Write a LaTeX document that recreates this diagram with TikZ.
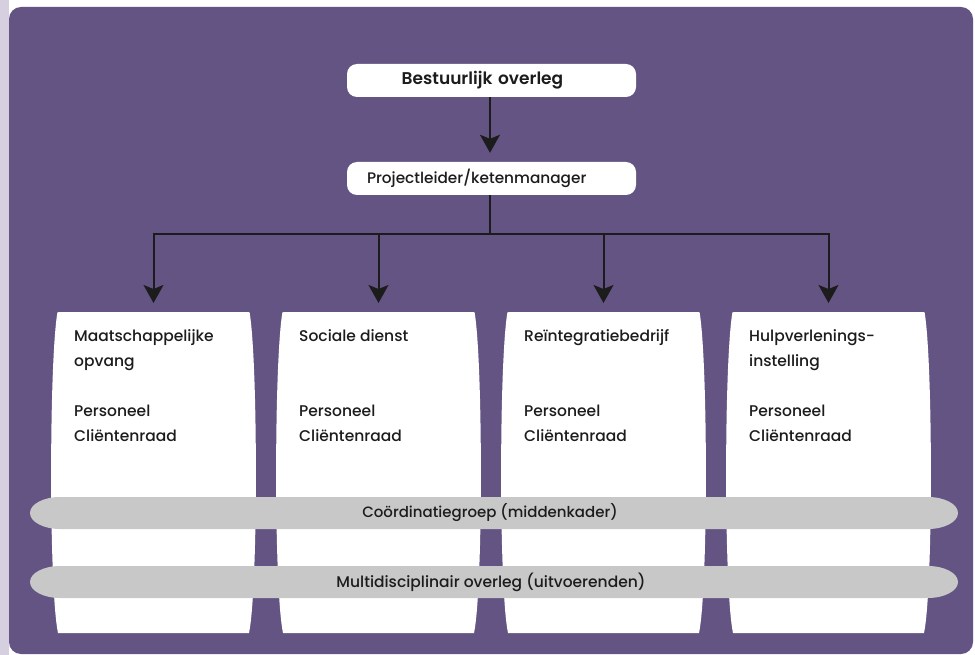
\documentclass[tikz,border=0pt]{standalone}
\usepackage{fontspec}
\setmainfont{Poppins}[UprightFont=* Medium, BoldFont=* SemiBold]
\usetikzlibrary{arrows.meta}
\definecolor{bgpurple}{RGB}{100,84,131}
\definecolor{lav}{RGB}{214,207,224}
\definecolor{bargray}{RGB}{200,200,200}
\definecolor{txt}{RGB}{28,28,28}
\tikzset{
  topbox/.style={fill=white, rounded corners=10pt, minimum width=289pt, minimum height=33pt, inner xsep=20pt, inner ysep=0pt, text width=249pt, text=txt},
  coltext/.style={anchor=base west, align=left, inner sep=0pt, text=txt, font=\fontsize{15.5}{25}\selectfont},
  bartext/.style={inner sep=0pt, text=txt},
  conn/.style={line width=2pt, draw=txt},
  arr/.style={conn, -{Stealth[length=18pt,width=20pt,inset=4pt]}}
}
\begin{document}
\begin{tikzpicture}[x=1pt,y=-1pt]
\useasboundingbox (0,0) rectangle (975,655);
\fill[white] (0,0) rectangle (975,655);
\fill[lav] (0,0) rectangle (9,655);
\fill[bgpurple, rounded corners=12pt] (9,7) rectangle (973,654);

% columns
\foreach \L in {57,282,507,732}{
  \fill[white] (\L,315) .. controls (\L,312) .. ({\L+3},312) -- ({\L+190},312)
    .. controls ({\L+193},312) .. ({\L+193},315)
    .. controls ({\L+201},370) and ({\L+201},590) .. ({\L+192},633)
    -- ({\L+1},633)
    .. controls ({\L-8},590) and ({\L-8},370) .. (\L,315) -- cycle;
}
\coordinate (col1) at (153.5,312);
\coordinate (col2) at (378.5,312);
\coordinate (col3) at (603.5,312);
\coordinate (col4) at (828.5,312);

\node[coltext] (t1) at (74,441) {Maatschappelijke\\opvang\\[25pt]Personeel\\Cliëntenraad};
\node[coltext] (t2) at (299,441) {Sociale dienst\\[50pt]Personeel\\Cliëntenraad};
\node[coltext] (t3) at (524,441) {Reïntegratiebedrijf\\[50pt]Personeel\\Cliëntenraad};
\node[coltext] (t4) at (749,441) {Hulpverlenings-\\instelling\\[25pt]Personeel\\Cliëntenraad};

% bars
\fill[bargray] (60,497) -- (928,497) arc[start angle=-90, end angle=90, x radius=30, y radius=16]
  -- (60,529) arc[start angle=90, end angle=270, x radius=30, y radius=16] -- cycle;
\fill[bargray] (60,566) -- (928,566) arc[start angle=-90, end angle=90, x radius=30, y radius=16]
  -- (60,598) arc[start angle=90, end angle=270, x radius=30, y radius=16] -- cycle;
\node[bartext, font=\fontsize{15}{17}\selectfont] (b1) at (490,513) {Coördinatiegroep (middenkader)};
\node[bartext, font=\fontsize{15.5}{17}\selectfont] (b2) at (491,582) {Multidisciplinair overleg (uitvoerenden)};

% top boxes
\node[topbox, align=center, font=\bfseries\fontsize{17}{18}\selectfont] (best) at (491.5,80.5) {\hspace*{-18pt}Bestuurlijk overleg};
\node[topbox, align=left, font=\fontsize{15.3}{18}\selectfont] (proj) at (491.5,178.5) {Projectleider/ketenmanager};

% connectors
\coordinate (hub) at (490,234);
\coordinate (j1) at (153.5,234);
\coordinate (j2) at (378.5,234);
\coordinate (j3) at (603.5,234);
\coordinate (j4) at (828.5,234);
\draw[arr, shorten >=9pt] (best.south -| hub) -- (proj.north -| hub);
\draw[conn] (proj.south -| hub) -- (hub);
\draw[conn] ([xshift=-1pt]j1) -- ([xshift=1pt]j4);
\draw[arr, shorten >=9pt] (j1) -- (col1);
\draw[arr, shorten >=9pt] (j2) -- (col2);
\draw[arr, shorten >=9pt] (j3) -- (col3);
\draw[arr, shorten >=9pt] (j4) -- (col4);
\end{tikzpicture}
\end{document}
